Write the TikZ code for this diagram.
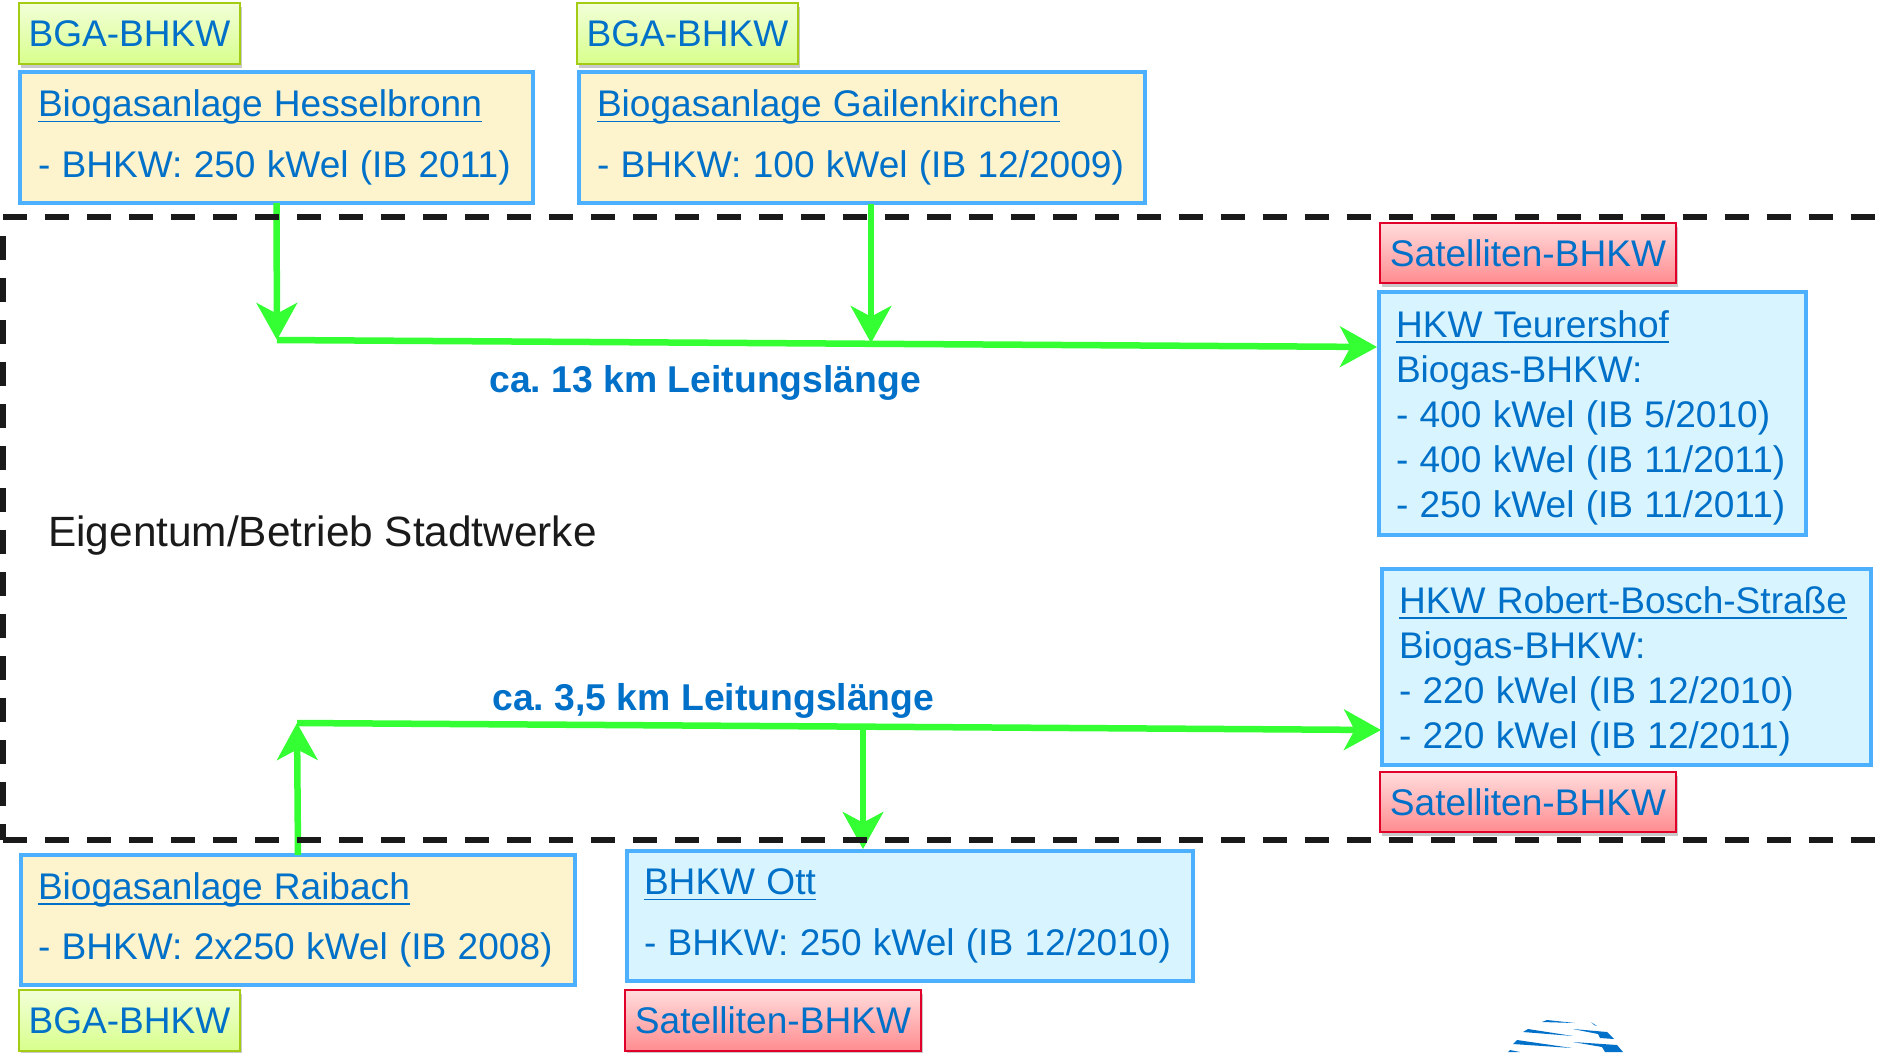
\documentclass[tikz,border=0pt]{standalone}
\usepackage{fontspec}
\setmainfont{Liberation Sans}
\frenchspacing
\usetikzlibrary{arrows.meta,shadows}

\definecolor{txtblue}{HTML}{0070C8}
\definecolor{boxline}{HTML}{4DB0FF}
\definecolor{boxyellow}{HTML}{FDF3CC}
\definecolor{boxblue}{HTML}{D8F5FF}
\definecolor{pipegreen}{HTML}{33FF33}
\definecolor{dashblack}{HTML}{1A1A1A}
\definecolor{bgaline}{HTML}{A4CC14}
\definecolor{bgatop}{HTML}{F2FFD8}
\definecolor{bgabottom}{HTML}{D8FF8C}
\definecolor{satline}{HTML}{E0002A}
\definecolor{sattop}{HTML}{FFDCDC}
\definecolor{satbottom}{HTML}{FF8C90}

\newcommand{\headline}[1]{\setbox0=\hbox{#1}\rlap{\rule[-0.145em]{\wd0}{0.045em}}\box0}
\newcommand{\tightwords}{\spaceskip=6.43pt\relax}
\newcommand{\lift}{\rule{0pt}{20pt}}

\tikzset{
    plant/.style={draw=boxline, line width=2.3pt, anchor=north west, align=left,
        inner sep=0pt, outer sep=0pt, text=txtblue, font=\fontsize{21.1pt}{25.6pt}\selectfont,
        execute at begin node=\tightwords},
    bgabox/.style={plant, fill=boxyellow},
    hkwbox/.style={plant, fill=boxblue},
    tag/.style={anchor=north west, inner sep=0pt, outer sep=0pt, text=txtblue, line width=1.6pt,
        font=\fontsize{21.1pt}{25.6pt}\selectfont,
        drop shadow={shadow xshift=1pt, shadow yshift=-2pt, opacity=0.3, fill=black!70}},
    tagbga/.style={tag, draw=bgaline, top color=bgatop, bottom color=bgabottom},
    tagsat/.style={tag, draw=satline, top color=sattop, bottom color=satbottom},
    pipe/.style={draw=pipegreen, line width=3.7pt},
    feed/.style={pipe, -{Stealth[length=21pt,width=23pt,inset=6pt]}},
    limit/.style={draw=dashblack, line width=3.1pt, dash pattern=on 13.66pt off 10.24pt},
    pipelabel/.style={anchor=base west, inner sep=0pt, text=txtblue, font=\fontsize{21.25pt}{25.6pt}\selectfont\bfseries}
}

\begin{document}
\begin{tikzpicture}[x=0.02cm, y=-0.02cm]
    \useasboundingbox (0,0) rectangle (1883,1052);

    %logo
    \fill[txtblue] (1542,1022) -- (1547,1020) -- (1575,1023) -- cycle;
    \fill[txtblue] (1523,1032) -- (1528,1029) -- (1573,1036) -- cycle;
    \fill[txtblue] (1513,1044) -- (1517,1040) -- (1572,1048) -- cycle;
    \fill[txtblue] (1508,1052) -- (1510,1050) -- (1520,1052) -- cycle;
    \fill[txtblue] (1573,1029) -- (1607,1032) -- (1614,1039) -- (1600,1038) -- (1598,1034) -- cycle;
    \fill[txtblue] (1573,1042) -- (1617,1045) -- (1623,1052) -- (1605,1052) -- (1602,1047) -- cycle;
    \fill[txtblue] (1591,1022) -- (1597,1026) -- (1594,1025) -- cycle;

    %Anlagen
    \node[bgabox, minimum width=513*0.02cm, minimum height=131*0.02cm, text width=477*0.02cm] (hesselbronn) at (20,72)
        {\headline{Biogasanlage Hesselbronn}\\[8.8pt]- BHKW: 250 kWel (IB 2011)};
    \node[bgabox, minimum width=566*0.02cm, minimum height=131*0.02cm, text width=530*0.02cm] (gailenkirchen) at (579,72)
        {\headline{Biogasanlage Gailenkirchen}\\[8.8pt]- BHKW: 100 kWel (IB 12/2009)};
    \node[bgabox, minimum width=554*0.02cm, minimum height=130*0.02cm, text width=520*0.02cm] (raibach) at (21,855)
        {\headline{Biogasanlage Raibach}\\[8.8pt]- BHKW: 2x250 kWel (IB 2008)};
    \node[hkwbox, minimum width=566*0.02cm, minimum height=130*0.02cm, text width=532*0.02cm] (ott) at (627,851)
        {\headline{BHKW Ott}\\[8.8pt]- BHKW: 250 kWel (IB 12/2010)};
    \node[hkwbox, minimum width=427*0.02cm, minimum height=243*0.02cm, text width=393*0.02cm] (teurershof) at (1379,292)
        {\lift\headline{HKW Teurershof}\\Biogas-BHKW:\\- 400 kWel (IB 5/2010)\\- 400 kWel (IB 11/2011)\\- 250 kWel (IB 11/2011)};
    \node[hkwbox, minimum width=489*0.02cm, minimum height=196*0.02cm, text width=455*0.02cm] (robertbosch) at (1382,569)
        {\lift\headline{HKW Robert-Bosch-Straße}\\Biogas-BHKW:\\- 220 kWel (IB 12/2010)\\- 220 kWel (IB 12/2011)};

    %Kennzeichnung
    \node[tagbga, minimum width=221*0.02cm, minimum height=61*0.02cm] (bga1) at (19,3) {BGA-BHKW};
    \node[tagbga, minimum width=221*0.02cm, minimum height=61*0.02cm] (bga2) at (577,3) {BGA-BHKW};
    \node[tagbga, minimum width=221*0.02cm, minimum height=61*0.02cm] (bga3) at (19,990) {BGA-BHKW};
    \node[tagsat, minimum width=296*0.02cm, minimum height=60*0.02cm] (sat1) at (1380,223) {Satelliten-BHKW};
    \node[tagsat, minimum width=296*0.02cm, minimum height=60*0.02cm] (sat2) at (1380,772) {Satelliten-BHKW};
    \node[tagsat, minimum width=296*0.02cm, minimum height=61*0.02cm] (sat3) at (625,990) {Satelliten-BHKW};

    %Leitung oben
    \coordinate (join1) at (277,340);
    \coordinate (join2) at (871,343);
    \coordinate (from2) at (871,204);
    \coordinate (into1) at (1377,347);
    \draw[feed] (hesselbronn.south) -- (join1);
    \draw[feed] (from2) -- (join2);
    \draw[feed] (join1) -- (into1);

    %Leitung unten
    \coordinate (join3) at (297,723);
    \coordinate (join4) at (863,728);
    \coordinate (into2) at (1381,730);
    \coordinate (into3) at (863,849);
    \draw[feed] (raibach.north) -- (join3);
    \draw[feed] (join3) -- (into2);
    \draw[feed] (join4) -- (into3);

    %Grenze
    \draw[limit] (3,217) -- (1883,217);
    \draw[limit] (3,236) -- (3,840);
    \draw[limit] (3,840) -- (1883,840);

    %Texte
    \node[pipelabel] (len1) at (489,392) {ca. 13 km Leitungslänge};
    \node[pipelabel] (len2) at (492,710) {ca. 3,5 km Leitungslänge};
    \node[anchor=base west, inner sep=0pt, text=dashblack, font=\fontsize{24.1pt}{28pt}\selectfont] (owner) at (48,546) {Eigentum/Betrieb Stadtwerke};
\end{tikzpicture}
\end{document}
